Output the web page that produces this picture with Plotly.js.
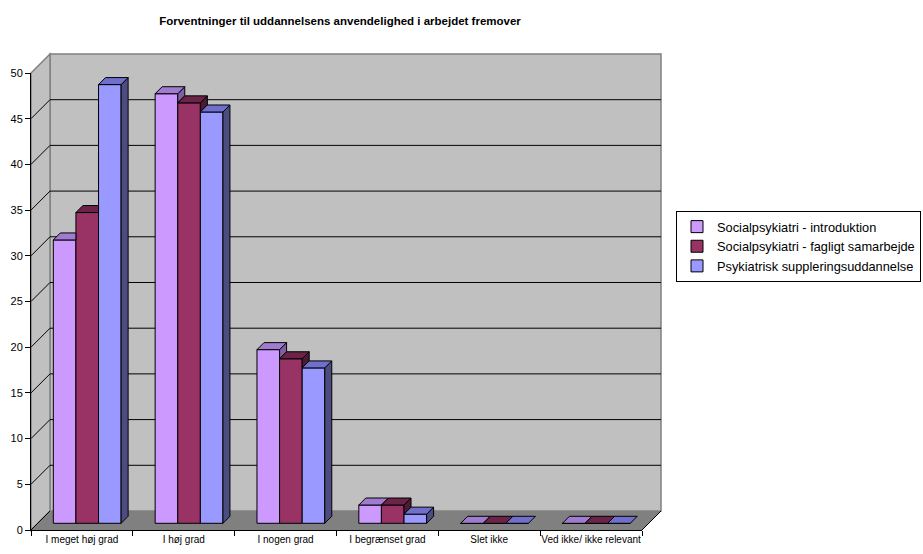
<!DOCTYPE html>
<html>
<head>
<meta charset="utf-8">
<script src="https://cdn.plot.ly/plotly-3.0.1.min.js"></script>
<style>html,body{margin:0;padding:0;background:#fff;}#chart{width:923px;height:554px;}</style>
</head>
<body>
<div id="chart"></div>
<script>
// ---- data ----
const categories = ['I meget høj grad', 'I høj grad', 'I nogen grad', 'I begrænset grad', 'Slet ikke', 'Ved ikke/ ikke relevant'];
const seriesNames = ['Socialpsykiatri - introduktion', 'Socialpsykiatri - fagligt samarbejde', 'Psykiatrisk suppleringsuddannelse'];
const introduktion = [31, 47, 19, 2, 0, 0];
const samarbejde = [34, 46, 18, 2, 0, 0];
const suppleringsuddannelse = [48, 45, 17, 1, 0, 0];
const yTicks = [0, 5, 10, 15, 20, 25, 30, 35, 40, 45, 50];
const chartTitle = 'Forventninger til uddannelsens anvendelighed i arbejdet fremover';

// ---- styling / geometry ----
const frontColors = ['#CC99FF', '#993366', '#9999FF'];
const topColors = ['#A07CD0', '#6B2347', '#6F6FCC'];
const sideColors = ['#7F5FA6', '#4D1A33', '#4C4C80'];
const series = [introduktion, samarbejde, suppleringsuddannelse];

const W = 923, H = 554, ML = 31, MR = 281, MT = 73.3, MB = 24;
const plotW = W - ML - MR, plotH = H - MT - MB;
const yMax = yTicks[yTicks.length - 1];
const xUnit = plotW / categories.length;   // px per category
const yUnit = plotH / yMax;                // px per value unit
const wallPx = 19, barShiftPx = 6.7, barDepthPx = 7;
const barLeftPx = -28.6, barWPx = 22.6;

const base = barShiftPx / yUnit;
const bw = barWPx / xUnit;
const ddx = barDepthPx / xUnit, ddy = barDepthPx / yUnit;
const offsets = series.map((_, s) => (barLeftPx + s * barWPx) / xUnit);

const traces = [];
// front faces: real bar traces
series.forEach((vals, s) => {
  traces.push({
    type: 'bar', name: seriesNames[s], x: categories, y: vals, base: base,
    offset: offsets[s], width: bw,
    marker: {color: frontColors[s], line: {color: '#000', width: 1}},
    hoverinfo: 'x+y+name'
  });
});
// top and side faces (visible parts), drawn on a hidden linear overlay axis
series.forEach((vals, s) => {
  const tx = [], ty = [], sx = [], sy = [];
  vals.forEach((v, i) => {
    const xl = i + offsets[s], xr = xl + bw, tp = v + base;
    const next = s < series.length - 1 ? series[s + 1][i] + base : null;
    const hRaw = next === null ? 0 : next - tp;
    if (hRaw >= ddy) {
      tx.push(xl, xr, xr, xl + ddx, xl, null);
      ty.push(tp, tp, tp + ddy, tp + ddy, tp, null);
    } else if (hRaw > 0) {
      tx.push(xl, xr, xr, xr + ddx * hRaw / ddy, xr + ddx, xl + ddx, xl, null);
      ty.push(tp, tp, tp + hRaw, tp + hRaw, tp + ddy, tp + ddy, tp, null);
    } else {
      tx.push(xl, xr, xr + ddx, xl + ddx, xl, null);
      ty.push(tp, tp, tp + ddy, tp + ddy, tp, null);
    }
    const lo = next === null ? base : Math.max(base, next);
    if (tp > lo) {
      sx.push(xr, xr + ddx, xr + ddx, xr, xr, null);
      sy.push(lo, lo + ddy, tp + ddy, tp, lo, null);
    }
  });
  traces.push({type: 'scatter', mode: 'lines', x: sx, y: sy, xaxis: 'x2', fill: 'toself',
    fillcolor: sideColors[s], line: {color: '#000', width: 1}, showlegend: false, hoverinfo: 'skip'});
  traces.push({type: 'scatter', mode: 'lines', x: tx, y: ty, xaxis: 'x2', fill: 'toself',
    fillcolor: topColors[s], line: {color: '#000', width: 1}, showlegend: false, hoverinfo: 'skip'});
});

// 3D box (walls, floor, gridlines) in paper coordinates
const dxp = wallPx / plotW, dyp = wallPx / plotH;
const shapes = [
  {type: 'rect', xref: 'paper', yref: 'paper', x0: dxp, x1: 1 + dxp, y0: dyp, y1: 1 + dyp,
   fillcolor: '#C0C0C0', line: {color: '#808080', width: 1.5}, layer: 'below'},
  {type: 'path', xref: 'paper', yref: 'paper', path: `M0,0 L${dxp},${dyp} L${dxp},${1 + dyp} L0,1 Z`,
   fillcolor: '#C0C0C0', line: {color: '#808080', width: 1.5}, layer: 'below'},
  {type: 'path', xref: 'paper', yref: 'paper', path: `M0,0 L1,0 L${1 + dxp},${dyp} L${dxp},${dyp} Z`,
   fillcolor: '#808080', line: {width: 0}, layer: 'below'},
  {type: 'line', xref: 'paper', yref: 'paper', x0: 0, y0: 0, x1: dxp, y1: dyp, line: {color: '#000', width: 1}, layer: 'below'},
  {type: 'line', xref: 'paper', yref: 'paper', x0: 1, y0: 0, x1: 1 + dxp, y1: dyp, line: {color: '#000', width: 1}, layer: 'below'}
];
yTicks.forEach(v => {
  if (v <= 0 || v >= yMax) return;
  const p = v / yMax;
  shapes.push({type: 'line', xref: 'paper', yref: 'paper', x0: dxp, x1: 1 + dxp, y0: p + dyp, y1: p + dyp,
    line: {color: '#000', width: 1}, layer: 'below'});
  shapes.push({type: 'line', xref: 'paper', yref: 'paper', x0: 0, x1: dxp, y0: p, y1: p + dyp,
    line: {color: '#000', width: 1}, layer: 'below'});
});

const sans = '"Liberation Sans", Arial, sans-serif';
const legendLeftPx = 676;
const layout = {
  width: W, height: H,
  margin: {l: ML, r: MR, t: MT, b: MB, pad: 0, autoexpand: false},
  paper_bgcolor: '#FFFFFF', plot_bgcolor: 'rgba(0,0,0,0)',
  title: {text: '<b>' + chartTitle + '</b>', x: 340 / W, xref: 'container', xanchor: 'center',
          y: 1 - 21 / H, yref: 'container', yanchor: 'middle',
          font: {family: sans, size: 11.5, color: '#000'}},
  barmode: 'overlay',
  showlegend: true,
  xaxis: {type: 'category', range: [-0.5, categories.length - 0.5], tickson: 'boundaries', tickangle: 0,
          ticks: 'outside', ticklen: 5, tickcolor: '#000', showline: true, linecolor: '#000', linewidth: 1,
          showgrid: false, zeroline: false, fixedrange: true,
          tickfont: {family: sans, size: 10, color: '#000'}},
  xaxis2: {overlaying: 'x', range: [-0.5, categories.length - 0.5], visible: false, fixedrange: true},
  yaxis: {range: [0, yMax], tickvals: yTicks, ticks: 'outside', ticklen: 5, tickcolor: '#000',
          showline: true, linecolor: '#000', linewidth: 1, showgrid: false, zeroline: false, fixedrange: true,
          tickfont: {family: sans, size: 11, color: '#000'}},
  legend: {x: (legendLeftPx - ML) / plotW, y: (530 - 211) / plotH, xanchor: 'left', yanchor: 'top',
           bgcolor: '#FFFFFF', bordercolor: '#000', borderwidth: 1, tracegroupgap: 0, itemwidth: 30,
           font: {family: sans, size: 12.8, color: '#000'}},
  shapes: shapes
};

Plotly.newPlot('chart', traces, layout, {displayModeBar: false, responsive: false});
</script>
</body>
</html>
